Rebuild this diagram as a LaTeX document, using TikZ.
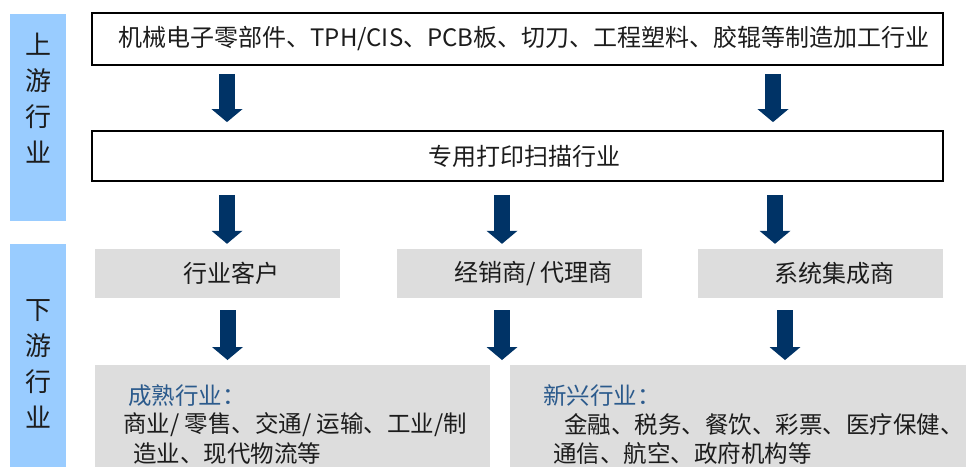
\documentclass[tikz,border=0pt]{standalone}
\usepackage{fontspec}
\setmainfont{Noto Sans CJK SC}
\usetikzlibrary{arrows.meta}
\definecolor{barblue}{HTML}{99CCFF}
\definecolor{arrowblue}{HTML}{003366}
\definecolor{boxgray}{HTML}{DDDDDD}
\definecolor{titleblue}{HTML}{2B5A8C}
\definecolor{txt}{HTML}{1C1C1C}
\newcommand{\mydown}[1]{\raisebox{-3pt}{#1}}
\tikzset{
  bar/.style={fill=barblue, draw=none, minimum width=56pt, inner sep=0pt},
  bartext/.style={align=center, text=txt, inner sep=0pt, font=\fontsize{26}{36.2}\selectfont},
  whitebox/.style={draw=black, line width=1.8pt, fill=white, minimum width=851pt, inner sep=0pt, text=txt, font=\fontsize{24}{28}\selectfont},
  graybox/.style={fill=boxgray, draw=none, minimum width=245pt, minimum height=49pt, inner sep=0pt, text=txt, font=\fontsize{24}{28}\selectfont},
  bigbox/.style={fill=boxgray, draw=none, inner sep=0pt, anchor=north west},
  title/.style={anchor=west, inner sep=0pt, text=titleblue, font=\fontsize{23.5}{28}\selectfont},
  line/.style={anchor=west, inner sep=0pt, text=txt, font=\fontsize{23.5}{28}\selectfont},
  blockarrow/.style={draw=arrowblue, line width=16pt, -{Triangle[width=31pt,length=13pt,line width=0pt 0 0]}, fill=none},
}
\begin{document}
\begin{tikzpicture}[x=1pt,y=-1pt]
\useasboundingbox (0,0) rectangle (966,467);
% left bars
\node[bar, minimum height=207pt] (upbar) at (38,117.5) {};
\node[bar, minimum height=223pt] (downbar) at (38,355.5) {};
\node[bartext] (uptext) at (38,98) {上\\游\\行\\业};
\node[bartext] (downtext) at (38,364) {下\\游\\行\\业};
% white boxes
\node[whitebox, minimum height=52pt] (top) at (517.5,39) {\mydown{\hspace*{13pt}机械电子零部件、TPH/CIS、PCB板、切刀、工程塑料、胶辊等制造加工行业}};
\node[whitebox, minimum height=50pt] (mid) at (517.5,156) {\mydown{\hspace*{13pt}专用打印扫描行业}};
% gray boxes
\node[graybox] (g1) at (217.5,273.5) {\mydown{\hspace*{28pt}行业客户}};
\node[graybox] (g2) at (519.5,273.5) {\mydown{\hspace*{28pt}经销商/ 代理商}};
\node[graybox] (g3) at (820.5,273.5) {\mydown{\hspace*{28pt}系统集成商}};
% bottom boxes
\node[bigbox, minimum width=395pt, minimum height=102pt] (b1) at (95,365) {};
\node[bigbox, minimum width=456pt, minimum height=102pt] (b2) at (510,365) {};
\node[title] (b1t) at (128,396) {成熟行业：};
\node[line] (b1a) at (123,425) {商业/ 零售、交通/ 运输、工业/制};
\node[line] (b1b) at (133,454) {造业、现代物流等};
\node[title] (b2t) at (543,396) {新兴行业：};
\node[line] (b2a) at (564,425) {金融、税务、餐饮、彩票、医疗保健、};
\node[line] (b2b) at (553,454) {通信、航空、政府机构等};
% arrow columns
\coordinate (c1) at (227,0);
\coordinate (c2) at (773,0);
\coordinate (d1) at (227,0);
\coordinate (d2) at (502,0);
\coordinate (d3) at (775,0);
\coordinate (e1) at (227.5,0);
\coordinate (e2) at (502,0);
\coordinate (e3) at (785,0);
% arrows
\draw[blockarrow, shorten <=8pt, shorten >=8pt] (c1 |- top.south) -- (c1 |- mid.north);
\draw[blockarrow, shorten <=8pt, shorten >=8pt] (c2 |- top.south) -- (c2 |- mid.north);
\draw[blockarrow, shorten <=13pt, shorten >=5pt] (d1 |- mid.south) -- (d1 |- g1.north);
\draw[blockarrow, shorten <=13pt, shorten >=5pt] (d2 |- mid.south) -- (d2 |- g2.north);
\draw[blockarrow, shorten <=13pt, shorten >=5pt] (d3 |- mid.south) -- (d3 |- g3.north);
\draw[blockarrow, shorten <=12pt, shorten >=5pt] (e1 |- g1.south) -- (e1 |- b1.north);
\draw[blockarrow, shorten <=12pt, shorten >=5pt] (e2 |- g2.south) -- (e2 |- b1.north);
\draw[blockarrow, shorten <=12pt, shorten >=5pt] (e3 |- g3.south) -- (e3 |- b2.north);
\end{tikzpicture}
\end{document}
